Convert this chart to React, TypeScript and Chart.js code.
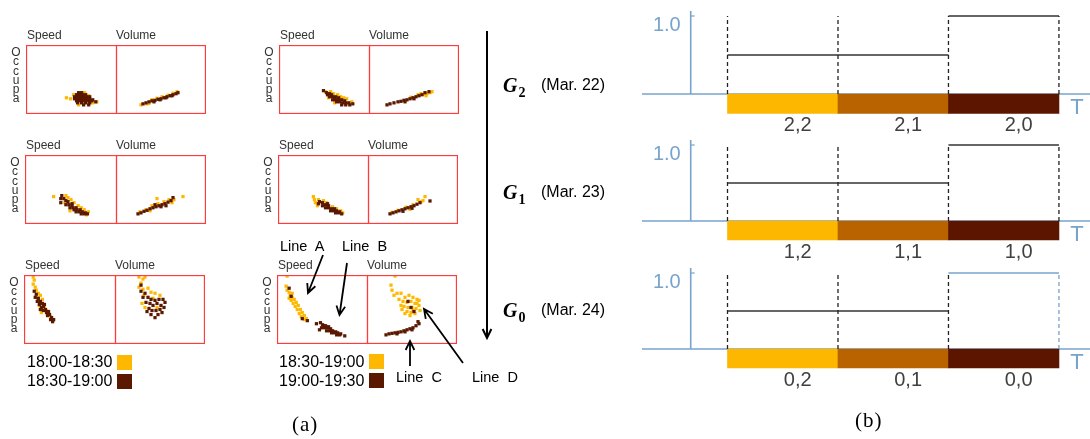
import React, { useEffect, useRef } from 'react';
import { Chart, registerables } from 'chart.js';
Chart.register(...registerables);

// ---------- colours ----------
const YELLOW = '#FFB800';
const BROWN = '#5A1800';
const BOX_RED = '#FF3B3B';
const AXIS_BLUE = '#77A3CC';
const SEG_COLORS = ['#FDB700', '#B86200', '#5C1600'];
const FONT_SANS = '"Liberation Sans", Arial, sans-serif';
const FONT_SERIF = '"Liberation Serif", "Times New Roman", serif';

// ---------- (a) scatter data: [x, y] in box units (x 0..90 across, y 0..68 up) ----------
// G2 (Mar. 22), 18:00-18:30 (yellow) / 18:30-19:00 (brown)
const G2_EARLY_SPEED_BROWN = [[52,21],[55,21],[50,19],[53,19],[56,19],[59,19],[48,17],[51,17],[54,17],[57,17],[60,17],[63,17],[48,15],[51,15],[54,15],[57,15],[60,15],[63,15],[66,14],[50,13],[53,13],[56,13],[59,13],[62,13],[65,13],[69,12],[51,11],[55,11],[59,11],[63,11],[57,9],[62,9]];
const G2_EARLY_SPEED_YELLOW = [[40,16],[44,15],[47,19],[52,9],[66,11],[70,12],[62,18],[58,21]];
const G2_EARLY_VOLUME_BROWN = [[27,10],[30,11],[33,12],[36,13],[39,13.5],[42,14.5],[45,15],[48,16],[51,17],[54,18],[57,19],[60,20],[62,21],[38,12],[44,14],[50,16],[56,18]];
const G2_EARLY_VOLUME_YELLOW = [[25,9],[31,10],[36,14],[41,15.5],[46,17],[52,18.5],[57,20.5],[61,22],[33,10.5]];
// G2 (Mar. 22), 18:30-19:00 (yellow) / 19:00-19:30 (brown)
const G2_LATE_SPEED_BROWN = [[44,23],[47,21],[48,19],[50,20],[52,19],[50,17],[53,17],[56,17],[59,16],[53,14],[56,14],[59,14],[62,14],[65,13],[55,15],[57,12],[60,12],[63,11],[66,11],[69,11],[62,9],[66,9],[70,9],[73,10]];
const G2_LATE_SPEED_YELLOW = [[51,22],[54,20],[58,19],[61,17],[64,16],[67,15],[72,12],[55,11],[49,16],[46,22]];
const G2_LATE_VOLUME_BROWN = [[18,9],[21,10],[25,11],[29,12],[32,12.5],[35,13.5],[38,14],[41,15],[44,16],[47,17],[50,18],[53,19],[56,21],[60,22],[36,12],[45,15]];
const G2_LATE_VOLUME_YELLOW = [[52,20],[55,19.5],[58,20],[61,21],[57,18],[49,19],[42,16.5],[63,22]];
// G1 (Mar. 23)
const G1_EARLY_SPEED_BROWN = [[36,28],[35,25],[35,21],[38,25],[40,23],[42,22],[46,20],[40,19],[43,19],[46,18],[44,16],[47,16],[50,16],[48,14],[51,14],[54,14],[50,12],[53,12],[56,12],[59,11],[55,10],[58,10],[61,10]];
const G1_EARLY_SPEED_YELLOW = [[28,27],[40,28],[42,26],[45,24],[48,21],[52,18],[55,16],[58,14],[62,12],[44,13],[60,9],[39,21]];
const G1_EARLY_VOLUME_BROWN = [[22,10],[25,11],[28,12.5],[31,13.5],[34,15],[37,16],[40,17],[43,18],[46,19],[49,20],[52,21.5],[55,23],[57,26],[39,19],[45,17],[50,18]];
const G1_EARLY_VOLUME_YELLOW = [[24,12],[30,14],[36,18],[42,20],[48,22],[53,24],[56,21],[58,24],[67,27],[41,25],[34,13]];
const G1_LATE_SPEED_BROWN = [[41,22],[44,21],[44,18],[47,19],[50,18],[47,16],[50,16],[53,15],[56,15],[52,13],[55,13],[58,13],[61,12],[57,11],[60,11],[63,10],[49,20],[40,20]];
const G1_LATE_SPEED_YELLOW = [[35,27],[36,24],[37,21],[40,24],[45,23],[48,21],[54,17],[58,15],[62,13],[64,11],[39,18]];
const G1_LATE_VOLUME_BROWN = [[22,10],[25,11],[28,12],[31,13],[34,14],[37,15],[40,16],[43,17],[46,18],[49,19.5],[52,21],[62,22.7],[35,12.5],[44,15.5]];
const G1_LATE_VOLUME_YELLOW = [[24,11.5],[30,13.5],[38,16.5],[45,19],[50,24],[53,22],[57,27],[55,23],[42,14.5]];
// G0 (Mar. 24)
const G0_EARLY_SPEED_BROWN = [[10,52],[12,49],[11,46],[14,45],[13,42],[16,42],[15,39],[18,40],[17,36],[19,37],[21,34],[19,33],[22,31],[24,32],[23,28],[25,29],[27,26],[26,24],[29,24],[28,22],[20,39],[16,34]];
const G0_EARLY_SPEED_YELLOW = [[9,66],[10,63],[9,59],[11,56],[12,53],[14,50],[16,48],[13,46],[18,44],[15,38],[20,36],[22,33],[17,31],[24,30],[26,27]];
const G0_EARLY_VOLUME_BROWN = [[26,58],[26,52],[30,50],[28,46],[33,46],[36,44],[40,43],[44,44],[48,44],[31,41],[35,40],[38,38],[42,40],[46,38],[50,41],[34,35],[37,33],[41,33],[45,34],[49,36],[36,29],[43,29],[40,26],[32,32],[47,31]];
const G0_EARLY_VOLUME_YELLOW = [[24,66],[28,64],[30,66],[26,60],[24,56],[28,54],[33,55],[36,51],[40,50],[29,48],[27,40],[45,48],[38,45],[30,36],[42,36]];
const G0_LATE_SPEED_BROWN = [[12,55],[14,47],[25,25],[30,23],[39,20],[43,21],[46,18],[45,19],[48,18],[51,17],[44,16],[47,16],[50,16],[53,15],[49,13],[52,13],[55,13],[58,12],[54,11],[57,11],[60,11],[63,10],[59,9],[62,9],[67,8],[42,14]];
const G0_LATE_SPEED_YELLOW = [[10,67],[9,57],[10,53],[12,51],[15,50],[13,48],[12,45],[15,46],[14,43],[17,44],[16,40],[19,41],[18,37],[21,38],[20,34],[23,34],[22,30],[25,31],[24,27],[27,28],[27,24],[29,25]];
const G0_LATE_VOLUME_BROWN = [[44,36],[47,32],[41,42],[19,9],[22,10],[25,10.5],[28,11],[31,11.5],[34,12],[37,13],[40,14],[43,15],[46,16],[49,18],[52,20],[51,22],[30,10],[38,12],[45,14]];
const G0_LATE_VOLUME_YELLOW = [[28,67],[24,58],[25,53],[27,48],[30,50],[34,50],[38,46],[42,48],[46,46],[50,44],[52,43],[36,42],[40,41],[44,42],[48,40],[52,38],[37,37],[41,36],[45,36],[49,35],[53,33],[40,32],[44,31],[48,30],[43,28],[35,34],[32,44],[38,30],[46,33],[50,40],[34,38]];

const BOX_X_MAX = 90;
const BOX_Y_MAX = 68;

const AXIS_TITLES = ['Speed', 'Volume'];
const Y_TITLE = 'Occupa';
const LEGEND_LEFT = ['18:00-18:30', '18:30-19:00'];
const LEGEND_RIGHT = ['18:30-19:00', '19:00-19:30'];
const GROUPS = [
  { sub: '2', date: '(Mar. 22)' },
  { sub: '1', date: '(Mar. 23)' },
  { sub: '0', date: '(Mar. 24)' },
];
const LINE_NAMES = ['Line  A', 'Line  B', 'Line  C', 'Line  D'];

// ---------- (b) timeline data ----------
const SEG_STARTS = [0, 1, 2];
const SEG_LEVELS = [0.5, 0.5, 1.0];
const BOUNDARIES = [0, 1, 2, 3];
const BOUNDARY_HEIGHT = 1.0;
const BAR_DEPTH = -0.25;
const Y_TICK = 1.0;
const TIMELINE_LABELS = [
  ['2,2', '2,1', '2,0'],
  ['1,2', '1,1', '1,0'],
  ['0,2', '0,1', '0,0'],
];
const T_MIN = -0.792;
const T_MAX = 3.281;
const Y_AXIS_AT = -0.333;

// ---------- layout ----------
const PAIRS = [
  { L: 26, D: 116, R: 205, T: 45, B: 113, speed: [G2_EARLY_SPEED_YELLOW, G2_EARLY_SPEED_BROWN], volume: [G2_EARLY_VOLUME_YELLOW, G2_EARLY_VOLUME_BROWN] },
  { L: 279, D: 369, R: 458, T: 45, B: 113, speed: [G2_LATE_SPEED_YELLOW, G2_LATE_SPEED_BROWN], volume: [G2_LATE_VOLUME_YELLOW, G2_LATE_VOLUME_BROWN] },
  { L: 25, D: 116, R: 205, T: 155, B: 223, speed: [G1_EARLY_SPEED_YELLOW, G1_EARLY_SPEED_BROWN], volume: [G1_EARLY_VOLUME_YELLOW, G1_EARLY_VOLUME_BROWN] },
  { L: 278, D: 368, R: 457, T: 155, B: 223, speed: [G1_LATE_SPEED_YELLOW, G1_LATE_SPEED_BROWN], volume: [G1_LATE_VOLUME_YELLOW, G1_LATE_VOLUME_BROWN] },
  { L: 24, D: 115, R: 204, T: 275, B: 343, speed: [G0_EARLY_SPEED_YELLOW, G0_EARLY_SPEED_BROWN], volume: [G0_EARLY_VOLUME_YELLOW, G0_EARLY_VOLUME_BROWN] },
  { L: 277, D: 367, R: 456, T: 275, B: 343, speed: [G0_LATE_SPEED_YELLOW, G0_LATE_SPEED_BROWN], volume: [G0_LATE_VOLUME_YELLOW, G0_LATE_VOLUME_BROWN] },
];

const TIMELINES = [
  { baseline: 94, tickY: 16, stepColors: ['#333', '#333', '#333'], dashColors: ['#222', '#222', '#222', '#222'] },
  { baseline: 221, tickY: 145, stepColors: ['#333', '#333', '#333'], dashColors: ['#222', '#222', '#222', '#222'] },
  { baseline: 349, tickY: 273, stepColors: ['#333', '#333', AXIS_BLUE], dashColors: ['#222', '#222', '#222', AXIS_BLUE] },
];

const boxBorder = {
  id: 'boxBorder',
  afterDraw(chart: any) {
    const { ctx, chartArea } = chart;
    ctx.save();
    ctx.strokeStyle = BOX_RED;
    ctx.lineWidth = 1.3;
    ctx.strokeRect(chartArea.left + 0.5, chartArea.top + 0.5, chartArea.right - chartArea.left - 1, chartArea.bottom - chartArea.top - 1);
    ctx.restore();
  },
};

function ScatterBox({ left, top, width, height, yellow, brown }: any) {
  const ref = useRef<HTMLCanvasElement | null>(null);
  useEffect(() => {
    if (!ref.current) return;
    const toPts = (arr: number[][]) => arr.map(([x, y]) => ({ x, y }));
    const chart = new Chart(ref.current, {
      type: 'scatter',
      data: {
        datasets: [
          { data: toPts(brown), backgroundColor: BROWN, borderWidth: 0, pointStyle: 'rect', pointRadius: 2.3 },
          { data: toPts(yellow), backgroundColor: YELLOW, borderWidth: 0, pointStyle: 'rect', pointRadius: 2.3 },
        ],
      },
      options: {
        animation: false,
        responsive: false,
        events: [],
        layout: { padding: 0, autoPadding: false },
        plugins: { legend: { display: false }, tooltip: { enabled: false } },
        scales: {
          x: { type: 'linear', min: 0, max: BOX_X_MAX, display: false },
          y: { type: 'linear', min: 0, max: BOX_Y_MAX, display: false },
        },
      } as any,
      plugins: [boxBorder],
    });
    return () => chart.destroy();
  }, []);
  return (
    <canvas ref={ref} width={width} height={height}
      style={{ position: 'absolute', left, top, width, height }} />
  );
}

const timelineDeco = {
  id: 'timelineDeco',
  beforeDatasetsDraw(chart: any) {
    const { ctx, chartArea, scales } = chart;
    const x = scales.x, y = scales.y;
    const y0 = y.getPixelForValue(0);
    const y1 = y.getPixelForValue(Y_TICK);
    const ax = x.getPixelForValue(Y_AXIS_AT);
    ctx.save();
    ctx.strokeStyle = AXIS_BLUE;
    ctx.lineWidth = 1.6;
    ctx.beginPath();
    ctx.moveTo(chartArea.left + 2, y0);
    ctx.lineTo(chartArea.right, y0);
    ctx.stroke();
    ctx.beginPath();
    ctx.moveTo(ax, y0);
    ctx.lineTo(ax, y1 - 5);
    ctx.stroke();
    ctx.lineWidth = 1.2;
    ctx.beginPath();
    ctx.moveTo(ax, y1);
    ctx.lineTo(ax + 4, y1);
    ctx.stroke();
    ctx.restore();
  },
  afterDatasetsDraw(chart: any, _args: any, opts: any) {
    const { ctx, chartArea, scales } = chart;
    const x = scales.x, y = scales.y;
    const y0 = y.getPixelForValue(0);
    const y1 = y.getPixelForValue(Y_TICK);
    const ax = x.getPixelForValue(Y_AXIS_AT);
    ctx.save();
    ctx.textBaseline = 'middle';
    ctx.fillStyle = AXIS_BLUE;
    ctx.font = `20px ${FONT_SANS}`;
    ctx.textAlign = 'right';
    ctx.fillText(Y_TICK.toFixed(1), ax - 10, y1 + 9);
    ctx.textAlign = 'center';
    ctx.font = `22px ${FONT_SANS}`;
    ctx.fillText('T', chartArea.right - 13, y0 + 14);
    ctx.fillStyle = '#404040';
    ctx.font = `20px ${FONT_SANS}`;
    (opts.labels || []).forEach((lab: string, i: number) => {
      ctx.fillText(lab, x.getPixelForValue(SEG_STARTS[i] + 0.5 + 0.135), y0 + 31);
    });
    ctx.restore();
  },
};

function Timeline({ baseline, tickY, labels, stepColors, dashColors }: any) {
  const ref = useRef<HTMLCanvasElement | null>(null);
  const above = 12;
  const below = 48;
  const top = tickY - above;
  const height = baseline + below - top;
  const left = 640;
  const width = 450;
  useEffect(() => {
    if (!ref.current) return;
    const unit = baseline - tickY;
    const yMax = Y_TICK + above / unit;
    const yMin = -below / unit;
    const datasets: any[] = [];
    BOUNDARIES.forEach((b, i) => {
      datasets.push({
        type: 'line', data: [{ x: b, y: 0 }, { x: b, y: BOUNDARY_HEIGHT }],
        borderColor: dashColors[i], borderWidth: 1.3, borderDash: [4, 3], pointRadius: 0,
      });
    });
    SEG_STARTS.forEach((s, i) => {
      datasets.push({
        type: 'line', data: [{ x: s, y: SEG_LEVELS[i] }, { x: s + 1, y: SEG_LEVELS[i] }],
        borderColor: stepColors[i], borderWidth: 1.5, pointRadius: 0,
      });
    });
    datasets.push({
      type: 'bar',
      data: SEG_STARTS.map((s) => ({ x: s + 0.5, y: [BAR_DEPTH, 0] })),
      backgroundColor: SEG_COLORS,
      borderWidth: 0,
      barPercentage: 1,
      categoryPercentage: 1,
    });
    const chart = new Chart(ref.current, {
      type: 'bar',
      data: { datasets },
      options: {
        animation: false,
        responsive: false,
        events: [],
        layout: { padding: 0, autoPadding: false },
        plugins: { legend: { display: false }, tooltip: { enabled: false }, timelineDeco: { labels } },
        scales: {
          x: {
            type: 'linear', min: T_MIN, max: T_MAX, display: false, offset: false,
            afterBuildTicks: (scale: any) => { scale.ticks = BOUNDARIES.map((v) => ({ value: v })); },
          },
          y: { type: 'linear', min: yMin, max: yMax, display: false },
        },
      } as any,
      plugins: [timelineDeco],
    });
    return () => chart.destroy();
  }, []);
  return (
    <canvas ref={ref} width={width} height={height}
      style={{ position: 'absolute', left, top, width, height }} />
  );
}

function Text({ x, cy, size, children, family = FONT_SANS, color = '#000', style = {} }: any) {
  return (
    <div style={{
      position: 'absolute', left: x, top: cy - size / 2, fontSize: size, lineHeight: `${size}px`,
      fontFamily: family, color, whiteSpace: 'pre', ...style,
    }}>{children}</div>
  );
}

function VerticalWord({ cx, top, word }: any) {
  return (
    <div style={{
      position: 'absolute', left: cx - 7, top, width: 14, textAlign: 'center',
      fontSize: 12, lineHeight: '9.3px', fontFamily: FONT_SANS, color: '#333',
    }}>
      {word.split('').map((ch: string, i: number) => <div key={i}>{ch}</div>)}
    </div>
  );
}

function arrowPath(x1: number, y1: number, x2: number, y2: number, len = 10, spread = 0.42) {
  const a = Math.atan2(y2 - y1, x2 - x1);
  const w1x = x2 - len * Math.cos(a - spread), w1y = y2 - len * Math.sin(a - spread);
  const w2x = x2 - len * Math.cos(a + spread), w2y = y2 - len * Math.sin(a + spread);
  return `M${x1},${y1} L${x2},${y2} M${w1x},${w1y} L${x2},${y2} L${w2x},${w2y}`;
}

const ARROWS = [
  [323, 255, 308, 293],
  [347, 263, 339.5, 315],
  [410, 366, 410, 341],
  [463, 363, 424, 309],
];

export default function App() {
  useEffect(() => {
    document.body.style.margin = '0';
  }, []);
  return (
    <div style={{ position: 'absolute', left: 0, top: 0, width: 1090, height: 439, background: '#fff', overflow: 'hidden' }}>
      {PAIRS.map((p, i) => (
        <React.Fragment key={i}>
          <ScatterBox left={p.L} top={p.T} width={p.D - p.L + 1} height={p.B - p.T + 1} yellow={p.speed[0]} brown={p.speed[1]} />
          <ScatterBox left={p.D} top={p.T} width={p.R - p.D + 1} height={p.B - p.T + 1} yellow={p.volume[0]} brown={p.volume[1]} />
          <Text x={p.L + 1} cy={p.T - 10} size={12} color="#333">{AXIS_TITLES[0]}</Text>
          <Text x={p.D} cy={p.T - 10} size={12} color="#333">{AXIS_TITLES[1]}</Text>
          <VerticalWord cx={p.L - 10} top={p.T + 3} word={Y_TITLE} />
        </React.Fragment>
      ))}

      {/* legends */}
      {LEGEND_LEFT.map((lab, i) => (
        <React.Fragment key={'ll' + i}>
          <Text x={27} cy={362 + i * 19} size={16}>{lab}</Text>
          <div style={{ position: 'absolute', left: 117, top: 355 + i * 19, width: 15, height: 15, background: i === 0 ? YELLOW : BROWN }} />
        </React.Fragment>
      ))}
      {LEGEND_RIGHT.map((lab, i) => (
        <React.Fragment key={'lr' + i}>
          <Text x={279} cy={362 + i * 18.5} size={16}>{lab}</Text>
          <div style={{ position: 'absolute', left: 369, top: 354 + i * 18.5, width: 15, height: 15, background: i === 0 ? YELLOW : BROWN }} />
        </React.Fragment>
      ))}

      {/* line annotations */}
      <Text x={280} cy={246} size={14.5}>{LINE_NAMES[0]}</Text>
      <Text x={342} cy={246} size={14.5}>{LINE_NAMES[1]}</Text>
      <Text x={396} cy={377} size={14.5}>{LINE_NAMES[2]}</Text>
      <Text x={472} cy={377} size={14.5}>{LINE_NAMES[3]}</Text>

      {/* group labels */}
      {GROUPS.map((g, i) => {
        const cy = [85, 192, 310][i];
        return (
          <React.Fragment key={'g' + i}>
            <div style={{ position: 'absolute', left: 503, top: cy - 10, fontSize: 20, lineHeight: '20px', fontFamily: FONT_SERIF, fontWeight: 'bold', fontStyle: 'italic', whiteSpace: 'pre' }}>
              G<span style={{ fontSize: 14, fontStyle: 'normal', position: 'relative', top: 5, marginLeft: 1 }}>{g.sub}</span>
            </div>
            <Text x={541} cy={cy} size={16}>{g.date}</Text>
          </React.Fragment>
        );
      })}

      <svg width={1090} height={439} style={{ position: 'absolute', left: 0, top: 0, pointerEvents: 'none' }}>
        <path d={arrowPath(487, 31, 487, 338, 10, 0.45)} stroke="#000" strokeWidth={2} fill="none" />
        {ARROWS.map((a, i) => (
          <path key={i} d={arrowPath(a[0], a[1], a[2], a[3], 10, 0.45)} stroke="#000" strokeWidth={1.8} fill="none" />
        ))}
      </svg>

      {/* (b) timelines */}
      {TIMELINES.map((t, i) => (
        <Timeline key={'t' + i} baseline={t.baseline} tickY={t.tickY} labels={TIMELINE_LABELS[i]} stepColors={t.stepColors} dashColors={t.dashColors} />
      ))}

      <Text x={292} cy={424} size={21} family={FONT_SERIF} style={{ letterSpacing: 1 }}>(a)</Text>
      <Text x={855} cy={420} size={21} family={FONT_SERIF} style={{ letterSpacing: 1 }}>(b)</Text>
    </div>
  );
}
